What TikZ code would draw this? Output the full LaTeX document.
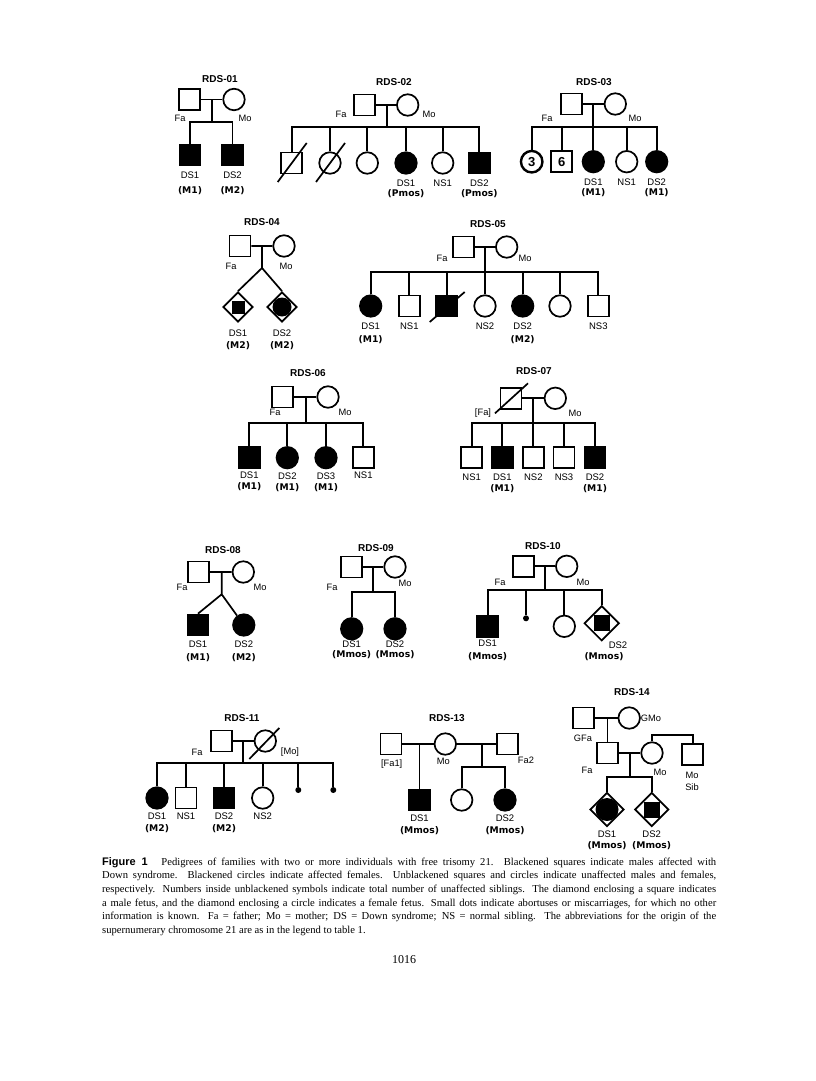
\documentclass[tikz,border=0pt]{standalone}
\usepackage{fontspec}
\setmainfont{Liberation Serif}
\setsansfont{Liberation Sans}
\newfontfamily\origfont{DejaVu Sans}
\usetikzlibrary{shapes.geometric,calc}
\newcommand{\lblfont}{\sffamily\fontsize{9.5}{12}\selectfont}
\newcommand{\ttlfont}{\sffamily\bfseries\fontsize{10}{10}\selectfont}
\newcommand{\orig}[1]{{\origfont\bfseries\fontsize{9.2}{12}\selectfont(#1)}}
\tikzset{
  male/.style={draw, line width=1.7pt, minimum size=21pt, inner sep=0pt, fill=white},
  female/.style={circle, draw, line width=1.7pt, minimum size=21.5pt, inner sep=0pt, fill=white},
  hit/.style={fill=black},
  fetus/.style={diamond, draw, line width=1.7pt, minimum size=30pt, inner sep=0pt, fill=white},
  hitsq/.style={fill=black, minimum size=13pt, inner sep=0pt},
  hitci/.style={circle, fill=black, minimum size=19pt, inner sep=0pt},
  loss/.style={circle, fill=black, minimum size=6pt, inner sep=0pt},
  lbl/.style={font=\lblfont, align=center, inner sep=0pt},
  par/.style={font=\fontsize{9.3}{9.3}\selectfont\sffamily, inner sep=0pt},
  ttl/.style={font=\ttlfont, inner sep=0pt},
  kin/.style={line width=1.7pt},
  every label/.style={lbl}, label distance=5pt
}

\begin{document}
\begin{tikzpicture}[x=1pt,y=-1pt]
\useasboundingbox (0,0) rectangle (816,1081);

% RDS-01
\node[ttl] (t01) at (220,79) {RDS-01};
\node[male] (f01) at (189.5,99.5) {};
\node[female] (m01) at (234,99.5) {};
\node[par] (lf01) at (180,118) {Fa};
\node[par] (lm01) at (245,118) {Mo};
\node[male,hit,label={below:DS1\\[3pt]\orig{M1}}] (a011) at (190,155) {};
\node[male,hit,label={below:DS2\\[3pt]\orig{M2}}] (a012) at (232.5,155) {};
\coordinate (j01) at (212,99.5);
\coordinate (s01) at (212,122);
\draw[kin] (f01) -- (m01) (j01) -- (s01) -| (a011) (s01) -| (a012);

% RDS-02
\node[ttl] (t02) at (394,82) {RDS-02};
\node[male] (f02) at (364.3,105) {};
\node[female] (m02) at (407.7,105) {};
\node[par] (lf02) at (341,114) {Fa};
\node[par] (lm02) at (429,114) {Mo};
\node[male] (a021) at (291.7,163) {};
\node[female] (a022) at (330,163) {};
\node[female] (a023) at (367.3,163) {};
\node[female,hit,label={below:DS1\\[-1.5pt]\orig{Pmos}}] (a024) at (406,163) {};
\node[female,label={below:NS1}] (a025) at (442.7,163) {};
\node[male,hit,label={below:DS2\\[-1.5pt]\orig{Pmos}}] (a026) at (479.3,163) {};
\coordinate (j02) at (386.7,105);
\coordinate (s02) at (386.7,127);
\draw[kin] (f02) -- (m02) (j02) -- (s02) -| (a021) (s02) -| (a022) (s02) -| (a023)
  (s02) -| (a024) (s02) -| (a025) (s02) -| (a026);
\draw[kin] (a021.center) +(-14,19) -- +(15,-20);
\draw[kin] (a022.center) +(-14,19) -- +(15,-20);

% RDS-03
\node[ttl] (t03) at (594,82) {RDS-03};
\node[male] (f03) at (571.3,104) {};
\node[female] (m03) at (615.3,104) {};
\node[par] (lf03) at (547,118) {Fa};
\node[par] (lm03) at (635,118) {Mo};
\node[female,line width=2.4pt,font=\sffamily\bfseries\fontsize{13}{13}\selectfont] (a031) at (531.7,161.7) {3};
\node[male,font=\sffamily\bfseries\fontsize{13}{13}\selectfont] (a032) at (561.7,161.7) {6};
\node[female,hit,label={below:DS1\\[-1.5pt]\orig{M1}}] (a033) at (593.3,161.7) {};
\node[female,label={below:NS1}] (a034) at (626.7,161.7) {};
\node[female,hit,label={below:DS2\\[-1.5pt]\orig{M1}}] (a035) at (656.7,161.7) {};
\coordinate (j03) at (593.3,104);
\coordinate (s03) at (593.3,127);
\draw[kin] (f03) -- (m03) (j03) -- (s03) -| (a031) (s03) -| (a032) (s03) -| (a033)
  (s03) -| (a034) (s03) -| (a035);

% RDS-04
\node[ttl] (t04) at (262,222) {RDS-04};
\node[male] (f04) at (240,246) {};
\node[female] (m04) at (284,246) {};
\node[par] (lf04) at (231,266) {Fa};
\node[par] (lm04) at (286,266) {Mo};
\node[fetus,label={[label distance=7pt]below:DS1\\[-0.5pt]\orig{M2}}] (a041) at (238,307) {};
\node[hitsq] (a041i) at (a041) {};
\node[fetus,label={[label distance=7pt]below:DS2\\[-0.5pt]\orig{M2}}] (a042) at (282,307) {};
\node[hitci] (a042i) at (a042) {};
\coordinate (j04) at (262,246);
\coordinate (w04) at (262,268);
\draw[kin] (f04) -- (m04) (j04) -- (w04) -- (a041.north) (w04) -- (a042.north);

% RDS-05
\node[ttl] (t05) at (488,224) {RDS-05};
\node[male] (f05) at (463.3,247) {};
\node[female] (m05) at (506.7,247) {};
\node[par] (lf05) at (442,258) {Fa};
\node[par] (lm05) at (525,258) {Mo};
\node[female,hit,label={below:DS1\\[1.5pt]\orig{M1}}] (a051) at (370.7,306) {};
\node[male,label={below:NS1}] (a052) at (409.3,306) {};
\node[male,hit] (a053) at (446.7,306) {};
\node[female,label={below:NS2}] (a054) at (485,306) {};
\node[female,hit,label={below:DS2\\[1.5pt]\orig{M2}}] (a055) at (522.7,306) {};
\node[female] (a056) at (560,306) {};
\node[male,label={below:NS3}] (a057) at (598.3,306) {};
\coordinate (j05) at (485,247);
\coordinate (s05) at (485,271.7);
\draw[kin] (f05) -- (m05) (j05) -- (s05) -| (a051) (s05) -| (a052) (s05) -| (a053)
  (s05) -| (a054) (s05) -| (a055) (s05) -| (a056) (s05) -| (a057);
\draw[kin] (a053.center) +(-17,16) -- +(18,-14);

% RDS-06
\node[ttl] (t06) at (308,373) {RDS-06};
\node[male] (f06) at (282.3,397) {};
\node[female] (m06) at (328,397) {};
\node[par] (lf06) at (275,412) {Fa};
\node[par] (lm06) at (345,412) {Mo};
\node[male,hit,label={[label distance=3pt]below:DS1\\[-1pt]\orig{M1}}] (a061) at (249.3,457.7) {};
\node[female,hit,label={[label distance=3pt]below:DS2\\[-1pt]\orig{M1}}] (a062) at (287.3,457.7) {};
\node[female,hit,label={[label distance=3pt]below:DS3\\[-1pt]\orig{M1}}] (a063) at (326,457.7) {};
\node[male,label={[label distance=3pt]below:NS1}] (a064) at (363.3,457.7) {};
\coordinate (j06) at (306,397);
\coordinate (s06) at (306,423.3);
\draw[kin] (f06) -- (m06) (j06) -- (s06) -| (a061) (s06) -| (a062) (s06) -| (a063) (s06) -| (a064);

% RDS-07
\node[ttl] (t07) at (534,371) {RDS-07};
\node[male] (f07) at (511,398.3) {};
\node[female] (m07) at (555.3,398.3) {};
\node[par] (lf07) at (483,413) {[Fa]};
\node[par] (lm07) at (575,413) {Mo};
\node[male,label={below:NS1}] (a071) at (471.7,457.7) {};
\node[male,hit,label={below:DS1\\[-1.5pt]\orig{M1}}] (a072) at (502.3,457.7) {};
\node[male,label={below:NS2}] (a073) at (533.3,457.7) {};
\node[male,label={below:NS3}] (a074) at (564,457.7) {};
\node[male,hit,label={below:DS2\\[-1.5pt]\orig{M1}}] (a075) at (595,457.7) {};
\coordinate (j07) at (533.3,398.3);
\coordinate (s07) at (533.3,423.3);
\draw[kin] (f07) -- (m07) (j07) -- (s07) -| (a071) (s07) -| (a072) (s07) -| (a073)
  (s07) -| (a074) (s07) -| (a075);
\draw[kin] (f07.center) +(-16,15) -- +(17,-15);

% RDS-08
\node[ttl] (t08) at (223,550) {RDS-08};
\node[male] (f08) at (198.7,572) {};
\node[female] (m08) at (243.3,572) {};
\node[par] (lf08) at (182,587) {Fa};
\node[par] (lm08) at (260,587) {Mo};
\node[male,hit,label={[label distance=4pt]below:DS1\\[1.2pt]\orig{M1}}] (a081) at (198,625) {};
\node[female,hit,label={[label distance=4pt]below:DS2\\[1.2pt]\orig{M2}}] (a082) at (243.8,625) {};
\coordinate (j08) at (221.7,572);
\coordinate (w08) at (221.7,594.3);
\draw[kin] (f08) -- (m08) (j08) -- (w08) -- (a081.north) (w08) -- (a082);

% RDS-09
\node[ttl] (t09) at (376,548) {RDS-09};
\node[male] (f09) at (351.7,567) {};
\node[female] (m09) at (395,567) {};
\node[par] (lf09) at (332,587) {Fa};
\node[par] (lm09) at (405,583) {Mo};
\node[female,hit,label={[label distance=0.5pt]below:DS1\\[-2pt]\orig{Mmos}}] (a091) at (351.7,628.8) {};
\node[female,hit,label={[label distance=0.5pt]below:DS2\\[-2pt]\orig{Mmos}}] (a092) at (395,628.8) {};
\coordinate (j09) at (373.3,567);
\coordinate (s09) at (373.3,591.7);
\draw[kin] (f09) -- (m09) (j09) -- (s09) -| (a091) (s09) -| (a092);

% RDS-10
\node[ttl] (t10) at (543,546) {RDS-10};
\node[male] (f10) at (523.3,566.3) {};
\node[female] (m10) at (566.7,566.3) {};
\node[par] (lf10) at (500,582) {Fa};
\node[par] (lm10) at (583,582) {Mo};
\node[male,hit,label={[label distance=2pt]below:DS1\\[1pt]\orig{Mmos}}] (a101) at (487.7,626.3) {};
\node[loss] (a102) at (526,618.3) {};
\node[female] (a103) at (564.3,626.3) {};
\node[fetus,minimum size=35pt] (a104) at (601.7,623.3) {};
\node[hitsq,minimum size=16pt] (a104i) at (a104) {};
\node[lbl] (la104) at (618,645) {DS2};
\node[lbl] (lb104) at (604,657) {\orig{Mmos}};
\coordinate (j10) at (545,566.3);
\coordinate (s10) at (545,590);
\draw[kin] (f10) -- (m10) (j10) -- (s10) -| (a101) (s10) -| (a102) (s10) -| (a103) (s10) -| (a104);

% RDS-11
\node[ttl] (t11) at (242,718) {RDS-11};
\node[male] (f11) at (221.3,741) {};
\node[female] (m11) at (265.3,741) {};
\node[par] (lf11) at (197,752) {Fa};
\node[par] (lm11) at (290,752) {[Mo]};
\node[female,hit,label={[label distance=3pt]below:DS1\\[0pt]\orig{M2}}] (a111) at (157,798) {};
\node[male,label={[label distance=3pt]below:NS1}] (a112) at (186,798) {};
\node[male,hit,label={[label distance=3pt]below:DS2\\[0pt]\orig{M2}}] (a113) at (224,798) {};
\node[female,label={[label distance=3pt]below:NS2}] (a114) at (262.7,798) {};
\node[loss] (a115) at (298.3,790) {};
\node[loss] (a116) at (333.3,790) {};
\coordinate (j11) at (242.7,741);
\coordinate (s11) at (242.7,763.3);
\draw[kin] (f11) -- (m11) (j11) -- (s11) -| (a111) (s11) -| (a112) (s11) -| (a113)
  (s11) -| (a114) (s11) -| (a115) (s11) -| (a116);
\draw[kin] (m11.center) +(-16,18) -- +(14,-13);

% RDS-13
\node[ttl] (t13) at (447,718) {RDS-13};
\node[male] (f13) at (391,744) {};
\node[female] (m13) at (445.3,744) {};
\node[male] (g13) at (507.7,744) {};
\node[par] (lf13) at (391.7,764) {[Fa1]};
\node[par] (lm13) at (443.3,761) {Mo};
\node[par] (lg13) at (526,760) {Fa2};
\node[male,hit,label={[label distance=3pt]below:DS1\\[0pt]\orig{Mmos}}] (a131) at (419.5,800) {};
\node[female] (a132) at (461.7,800) {};
\node[female,hit,label={[label distance=3pt]below:DS2\\[0pt]\orig{Mmos}}] (a133) at (505,800) {};
\coordinate (j131) at (419.5,744);
\coordinate (j132) at (481.7,744);
\coordinate (s13) at (481.7,766.7);
\draw[kin] (f13) -- (m13) -- (g13) (j131) -- (a131) (j132) -- (s13) -| (a132) (s13) -| (a133);

% RDS-14
\node[ttl] (t14) at (632,692) {RDS-14};
\node[male] (gf14) at (583.8,718) {};
\node[female] (gm14) at (629.2,718) {};
\node[par] (lgf14) at (583,738) {GFa};
\node[par] (lgm14) at (651,718) {GMo};
\node[male] (f14) at (607.5,753) {};
\node[female] (m14) at (652,753) {};
\node[male] (b14) at (692.8,754.5) {};
\node[par] (lf14) at (587,770) {Fa};
\node[par] (lm14) at (660,772) {Mo};
\node[par, align=center, font=\fontsize{9.3}{11.7}\selectfont\sffamily] (lb14) at (692,781) {Mo\\Sib};
\node[fetus,minimum size=34pt,label={[label distance=3pt]below:DS1\\[-1pt]\orig{Mmos}}] (a141) at (607,809.5) {};
\node[hitci,minimum size=23pt] (a141i) at (a141) {};
\node[fetus,minimum size=34pt,label={[label distance=3pt]below:DS2\\[-1pt]\orig{Mmos}}] (a142) at (651.7,809.5) {};
\node[hitsq,minimum size=16pt] (a142i) at (a142) {};
\coordinate (j141) at (607.5,718);
\coordinate (j142) at (630,753);
\coordinate (s141) at (652,735);
\coordinate (s142) at (630,777);
\draw[kin] (gf14) -- (gm14) (j141) -- (f14) (f14) -- (m14) (m14) -- (s141) -| (b14)
  (j142) -- (s142) -| (a141) (s142) -| (a142);

% caption
\node[anchor=north west, text width=614pt, align=justify, inner sep=0pt,
  font=\fontsize{10.6}{13.7}\selectfont] (cap) at (102,857) {{\sffamily\bfseries\fontsize{11}{13.7}\selectfont Figure 1}\hspace{1.3em}Pedigrees of families with two or more individuals with free trisomy 21. Blackened squares indicate males affected with\linebreak
Down syndrome. Blackened circles indicate affected females. Unblackened squares and circles indicate unaffected males and females,\linebreak
respectively. Numbers inside unblackened symbols indicate total number of unaffected siblings. The diamond enclosing a square indicates\linebreak
a male fetus, and the diamond enclosing a circle indicates a female fetus. Small dots indicate abortuses or miscarriages, for which no other\linebreak
information is known. Fa = father; Mo = mother; DS = Down syndrome; NS = normal sibling. The abbreviations for the origin of the\linebreak
supernumerary chromosome 21 are as in the legend to table 1.};
\node[font=\fontsize{12}{12}\selectfont, inner sep=0pt] (pg) at (404,960) {1016};
\end{tikzpicture}
\end{document}
